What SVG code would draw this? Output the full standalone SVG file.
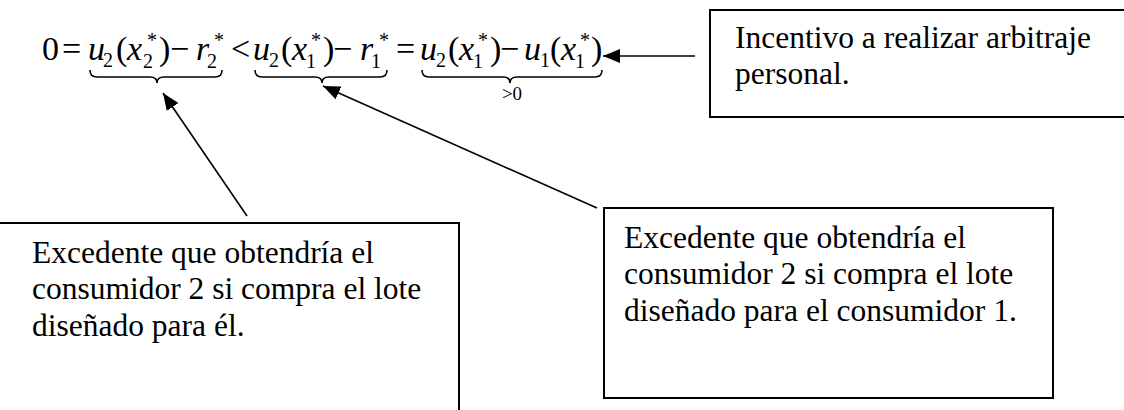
<svg xmlns="http://www.w3.org/2000/svg" width="1124" height="410" viewBox="0 0 1124 410">
<style>
.box{fill:#fff;stroke:#000;stroke-width:2}
.t{font-family:"Liberation Serif","Times New Roman",serif;font-size:31.5px;fill:#000}
.f{font-family:"Liberation Serif","Times New Roman",serif;font-size:34px;fill:#000}
.i{font-style:italic}
.s{font-size:20px}
.br{fill:none;stroke:#000;stroke-width:1.6}
.ln{stroke:#000;stroke-width:1.6;fill:none}
</style>
<defs>
<marker id="ah" markerUnits="userSpaceOnUse" markerWidth="18" markerHeight="14" refX="17" refY="7" orient="auto">
<path d="M0,0 L17,7 L0,14 Z" fill="#000"/>
</marker>
</defs>
<g id="formula">
<text class="f"><tspan x="42" y="60">0</tspan><tspan x="62" y="60">=</tspan><tspan class="i" x="88" y="60">u</tspan><tspan class="s" x="103" y="67">2</tspan><tspan x="116" y="60">(</tspan><tspan class="i" x="127" y="60">x</tspan><tspan class="s" x="147" y="47">*</tspan><tspan class="s" x="143" y="68">2</tspan><tspan x="159" y="60">)</tspan><tspan x="170" y="60">−</tspan><tspan class="i" x="196" y="60">r</tspan><tspan class="s" x="207" y="68">2</tspan><tspan class="s" x="214" y="47">*</tspan><tspan x="231" y="60">&lt;</tspan><tspan class="i" x="253" y="60">u</tspan><tspan class="s" x="269" y="67">2</tspan><tspan x="281" y="60">(</tspan><tspan class="i" x="292" y="60">x</tspan><tspan class="s" x="311" y="47">*</tspan><tspan class="s" x="306" y="68">1</tspan><tspan x="323" y="60">)</tspan><tspan x="333" y="60">−</tspan><tspan class="i" x="360" y="60">r</tspan><tspan class="s" x="371" y="68">1</tspan><tspan class="s" x="379" y="47">*</tspan><tspan x="396" y="60">=</tspan><tspan class="i" x="420" y="60">u</tspan><tspan class="s" x="436" y="67">2</tspan><tspan x="448" y="60">(</tspan><tspan class="i" x="459" y="60">x</tspan><tspan class="s" x="478" y="47">*</tspan><tspan class="s" x="473" y="68">1</tspan><tspan x="490" y="60">)</tspan><tspan x="500" y="60">−</tspan><tspan class="i" x="524" y="60">u</tspan><tspan class="s" x="540" y="67">1</tspan><tspan x="550" y="60">(</tspan><tspan class="i" x="561" y="60">x</tspan><tspan class="s" x="580" y="47">*</tspan><tspan class="s" x="575" y="68">1</tspan><tspan x="591" y="60">)</tspan></text>
<path class="br" d="M90,70 Q90,77 97,77 L150,77 Q157,77 157,83 Q157,77 164,77 L215,77 Q222,77 222,70"/>
<path class="br" d="M255,70 Q255,77 262,77 L315,77 Q322,77 322,83 Q322,77 329,77 L380,77 Q387,77 387,70"/>
<path class="br" d="M422,70 Q422,77 429,77 L503,77 Q510,77 510,83 Q510,77 517,77 L595,77 Q602,77 602,70"/>
<text class="f" x="512" y="100" text-anchor="middle" style="font-size:19px">&gt;0</text>
</g>
<g id="connectors">
<line class="ln" x1="247" y1="216" x2="163" y2="93" marker-end="url(#ah)"/>
<line class="ln" x1="597" y1="208" x2="323" y2="86" marker-end="url(#ah)"/>
<line class="ln" x1="695" y1="56" x2="603" y2="56" marker-end="url(#ah)"/>
</g>
<g id="box-incentivo">
<rect class="box" x="710" y="10" width="430" height="107"/>
<text class="t" x="735" y="48">Incentivo a realizar arbitraje</text>
<text class="t" x="735" y="84">personal.</text>
</g>
<g id="box-excedente-2">
<rect class="box" x="-10" y="223" width="469" height="210"/>
<text class="t" x="32" y="263">Excedente que obtendría el</text>
<text class="t" x="32" y="299">consumidor 2 si compra el lote</text>
<text class="t" x="32" y="336">diseñado para él.</text>
</g>
<g id="box-excedente-1">
<rect class="box" x="604" y="208" width="449" height="190"/>
<text class="t" x="624" y="248">Excedente que obtendría el</text>
<text class="t" x="624" y="284">consumidor 2 si compra el lote</text>
<text class="t" x="624" y="321">diseñado para el consumidor 1.</text>
</g>
</svg>
